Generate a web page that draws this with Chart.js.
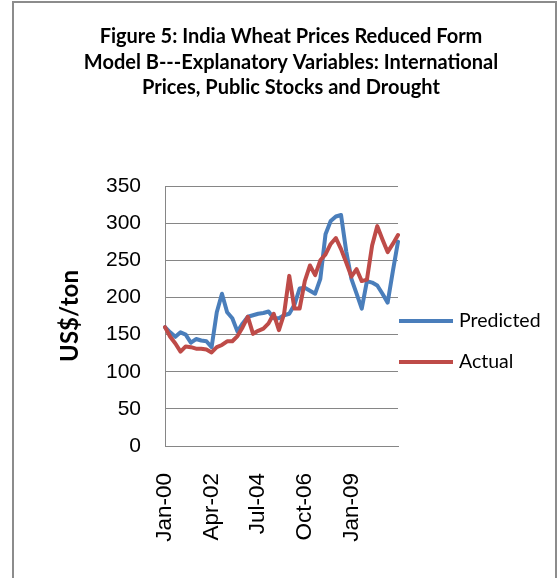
<!DOCTYPE html>
<html>
<head>
<meta charset="utf-8">
<title>India Wheat Prices</title>
<script src="https://cdn.jsdelivr.net/npm/chart.js@4.4.1/dist/chart.umd.min.js"></script>
<style>
  html, body { margin: 0; padding: 0; background: #fff; }
  body { width: 560px; height: 578px; position: relative; overflow: hidden; }
  .frame { position: absolute; left: 12px; top: 1px; width: 541px; height: 640px; border: 2px solid #8c8c8c; }
  .wrap { position: absolute; left: 0; top: 0; width: 560px; height: 578px; }
</style>
</head>
<body>
<div class="frame"></div>
<div class="wrap"><canvas id="wheat-chart" width="560" height="578"></canvas></div>
<script>
// quarterly observations, Jan-00 .. Apr-11
const quarters = [
  'Jan-00', 'Apr-00', 'Jul-00', 'Oct-00', 'Jan-01', 'Apr-01', 'Jul-01', 'Oct-01',
  'Jan-02', 'Apr-02', 'Jul-02', 'Oct-02', 'Jan-03', 'Apr-03', 'Jul-03', 'Oct-03',
  'Jan-04', 'Apr-04', 'Jul-04', 'Oct-04', 'Jan-05', 'Apr-05', 'Jul-05', 'Oct-05',
  'Jan-06', 'Apr-06', 'Jul-06', 'Oct-06', 'Jan-07', 'Apr-07', 'Jul-07', 'Oct-07',
  'Jan-08', 'Apr-08', 'Jul-08', 'Oct-08', 'Jan-09', 'Apr-09', 'Jul-09', 'Oct-09',
  'Jan-10', 'Apr-10', 'Jul-10', 'Oct-10', 'Jan-11', 'Apr-11'
];

// labels that appear on the category axis
const tickLabels = ['Jan-00', 'Apr-02', 'Jul-04', 'Oct-06', 'Jan-09'];

// US$/ton
const predicted = [
  160, 153, 147, 153, 150, 139, 144, 142, 141, 133,
  180, 205, 180, 172, 154, 165, 174, 176, 178, 179,
  181, 172, 172, 176, 178, 190, 212, 213, 209, 205,
  225, 285, 303, 309, 311, 262, 225, 205, 185, 222,
  220, 216, 205, 193, 235, 275
];

const actual = [
  160, 147, 138, 127, 134, 133, 131, 131, 130, 126,
  133, 136, 141, 141, 148, 160, 174, 151, 155, 158,
  165, 178, 156, 178, 229, 185, 185, 222, 243, 230,
  250, 258, 272, 280, 265, 247, 228, 238, 222, 224,
  270, 296, 278, 261, 272, 284
];

const seriesNames = ['Predicted', 'Actual'];
const seriesColors = ['#4a7ebb', '#be4b48'];

const titleLines = [
  'Figure 5: India Wheat Prices Reduced Form',
  'Model B---Explanatory Variables: International',
  'Prices, Public Stocks and Drought'
];

// legend to the right of the plot, Excel style
const sideLegend = {
  id: 'sideLegend',
  afterDraw(chart) {
    const { ctx, chartArea } = chart;
    ctx.save();
    ctx.font = '19.5px Lato';
    ctx.textBaseline = 'middle';
    chart.data.datasets.forEach((ds, i) => {
      const y = chartArea.top + 135 + i * 41;
      ctx.strokeStyle = ds.borderColor;
      ctx.lineWidth = 4;
      ctx.beginPath();
      ctx.moveTo(chartArea.right + 1, y);
      ctx.lineTo(chartArea.right + 55, y);
      ctx.stroke();
      ctx.fillStyle = '#000';
      ctx.fillText(ds.label, chartArea.right + 61, y);
    });
    ctx.restore();
  }
};

const ctx = document.getElementById('wheat-chart');

new Chart(ctx, {
  type: 'line',
  data: {
    labels: quarters,
    datasets: [
      { label: seriesNames[0], data: predicted, borderColor: seriesColors[0], order: 1 },
      { label: seriesNames[1], data: actual, borderColor: seriesColors[1], order: 0 }
    ]
  },
  options: {
    responsive: false,
    animation: false,
    devicePixelRatio: 1,
    layout: { padding: { left: 22, right: 0, top: 0, bottom: 0 } },
    elements: {
      line: { borderWidth: 4, tension: 0, borderCapStyle: 'round', borderJoinStyle: 'round' },
      point: { radius: 0 }
    },
    plugins: {
      legend: { display: false },
      tooltip: { enabled: false },
      title: {
        display: true,
        text: titleLines,
        color: '#000',
        font: { family: 'Lato', size: 20, weight: 'bold', lineHeight: 1.275 },
        padding: { top: 24.25, bottom: 85.25 }
      }
    },
    scales: {
      x: {
        grid: { display: false, drawTicks: false },
        border: { color: '#868686', width: 1 },
        afterFit: (s) => { s.height = 132; },
        ticks: {
          autoSkip: false,
          maxRotation: 90,
          minRotation: 90,
          padding: 27,
          color: '#000',
          font: { family: 'Liberation Sans', size: 22.5 },
          callback: function(value) {
            const lab = this.getLabelForValue(value);
            return tickLabels.includes(lab) ? lab : '';
          }
        }
      },
      y: {
        min: 0,
        max: 350,
        afterFit: (s) => { s.width = 143; },
        grid: { color: '#868686', lineWidth: 1, drawTicks: false },
        border: { color: '#868686', width: 1 },
        ticks: {
          stepSize: 50,
          padding: 24,
          color: '#000',
          font: { family: 'Liberation Sans', size: 21 }
        },
        title: {
          display: true,
          text: 'US$/ton',
          color: '#000',
          font: { family: 'Lato', size: 24, weight: 'bold' },
          padding: { top: 33.6, bottom: 0 }
        }
      },
      // empty box that keeps room for the legend on the right
      space: {
        type: 'linear',
        position: 'right',
        display: true,
        grid: { display: false },
        border: { display: false },
        ticks: { display: false },
        afterFit: (s) => { s.width = 162; }
      }
    }
  },
  plugins: [sideLegend]
});
</script>
</body>
</html>
